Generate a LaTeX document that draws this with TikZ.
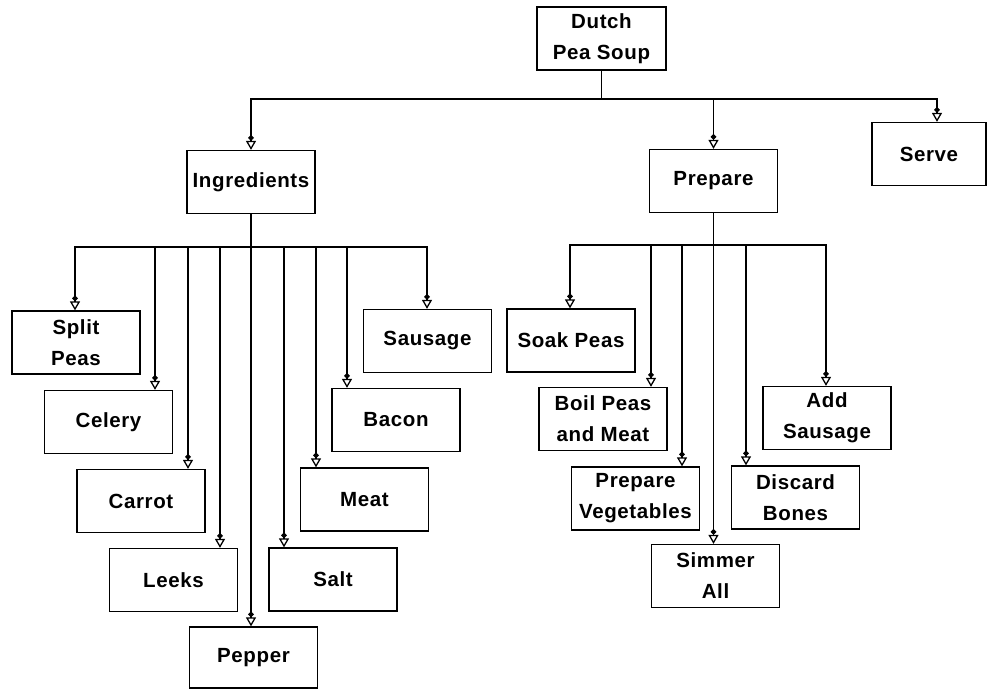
\documentclass[tikz,border=0pt]{standalone}
\usepackage{fontspec}
\setmainfont{Liberation Sans}[LetterSpace=3]
\usetikzlibrary{arrows.meta}
\begin{document}
\begin{tikzpicture}[x=1pt,y=-1pt,
  box/.style={draw,line width=1.3pt,minimum width=128pt,minimum height=63pt,
    inner sep=0pt,align=center,font=\fontsize{20.5}{31}\selectfont\bfseries},
  link/.style={line width=1.2pt},
  arr/.style={link,-{Diamond[length=6pt,width=6pt]Triangle[open,length=9pt,width=10pt,line width=1.3pt]}}]
\useasboundingbox (0,0) rectangle (991,689);

% top level
\node[box,minimum width=129pt] (dutch) at (601.5,38.5) {Dutch\\Pea Soup};
\node[box] (ingr) at (251,182) {Ingredients};
\node[box] (prep) at (713.5,181) {Prepare};
\node[box,minimum width=114pt] (serve) at (929,154) {Serve};

% ingredients
\node[box] (split)   at (76,342.5)  {Split\\Peas};
\node[box] (celery)  at (108.5,422) {Celery};
\node[box] (carrot)  at (141,501)   {Carrot};
\node[box] (leeks)   at (173.5,580) {Leeks};
\node[box,minimum height=61pt] (pepper) at (253.5,657.5) {Pepper};
\node[box] (salt)    at (333,579.5) {Salt};
\node[box] (meat)    at (364.5,499.5) {Meat};
\node[box] (bacon)   at (396,420)   {Bacon};
\node[box] (sausage) at (427.5,341) {Sausage};

% preparation steps
\node[box] (soak)    at (571,340.5)   {Soak Peas};
\node[box] (boil)    at (603,419)     {Boil Peas\\and Meat};
\node[box] (prepveg) at (635.5,498.5) {Prepare\\Vegetables};
\node[box] (simmer)  at (715.5,576)   {Simmer\\All};
\node[box] (discard) at (795.5,497.5) {Discard\\Bones};
\node[box] (addsaus) at (827,418)     {Add\\Sausage};

% bus lines
\coordinate (topbus) at (0,99);
\coordinate (ibus) at (0,247);
\coordinate (pbus) at (0,245);

\draw[link] (dutch.south) -- (dutch.south |- topbus);
\draw[arr] (dutch.south |- topbus) -| (ingr.north);
\draw[arr] (dutch.south |- topbus) -| (prep.north);
\draw[arr] (dutch.south |- topbus) -| ([xshift=8pt]serve.north);

\draw[arr] (ingr.south |- ibus) -| ([xshift=-1pt]split.north);
\draw[arr] (ingr.south |- ibus) -| ([xshift=46.5pt]celery.north);
\draw[arr] (ingr.south |- ibus) -| ([xshift=47pt]carrot.north);
\draw[arr] (ingr.south |- ibus) -| ([xshift=46.5pt]leeks.north);
\draw[arr] (ingr.south) -- (ingr.south |- pepper.north);
\draw[arr] (ingr.south |- ibus) -| ([xshift=-49pt]salt.north);
\draw[arr] (ingr.south |- ibus) -| ([xshift=-48.5pt]meat.north);
\draw[arr] (ingr.south |- ibus) -| ([xshift=-49pt]bacon.north);
\draw[arr] (ingr.south |- ibus) -| ([xshift=-0.5pt]sausage.north);

\draw[arr] (prep.south |- pbus) -| ([xshift=-1pt]soak.north);
\draw[arr] (prep.south |- pbus) -| ([xshift=48pt]boil.north);
\draw[arr] (prep.south |- pbus) -| ([xshift=46.5pt]prepveg.north);
\draw[arr] (prep.south) -- (prep.south |- simmer.north);
\draw[arr] (prep.south |- pbus) -| ([xshift=-49.5pt]discard.north);
\draw[arr] (prep.south |- pbus) -| ([xshift=-1pt]addsaus.north);
\end{tikzpicture}
\end{document}
